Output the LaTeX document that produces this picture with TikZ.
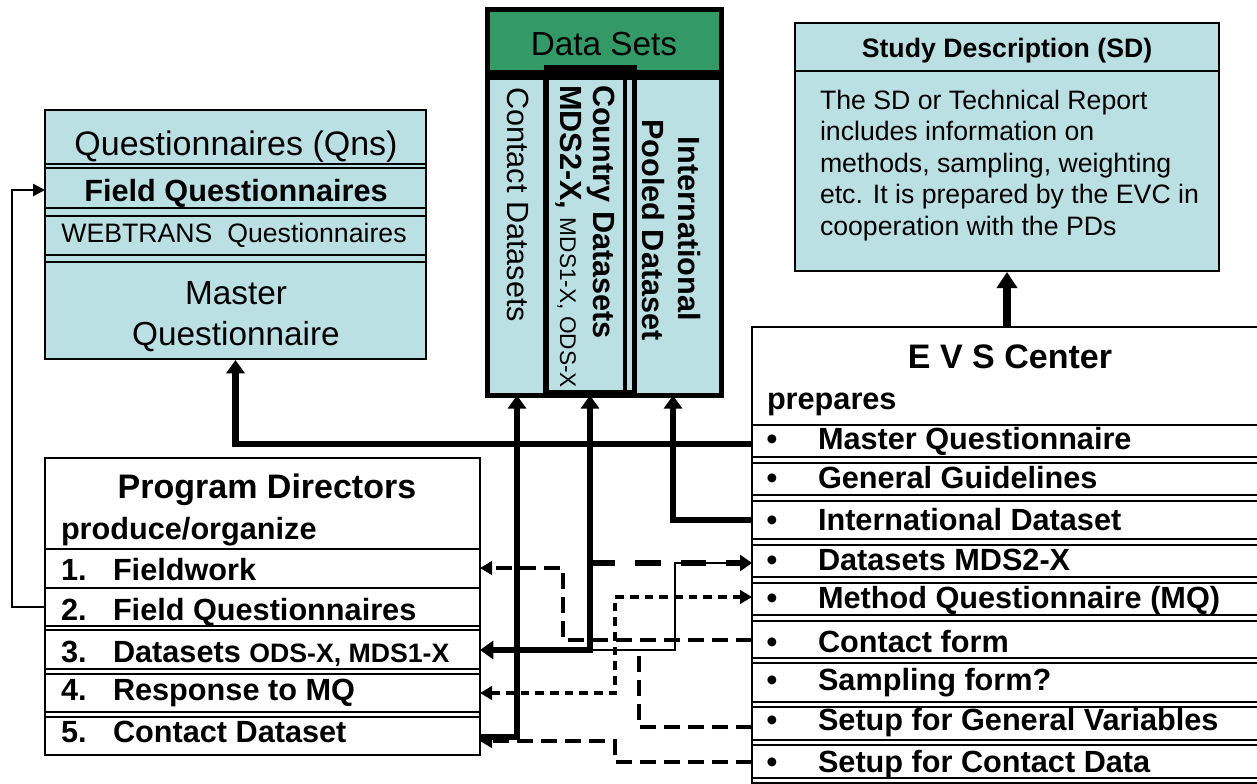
\documentclass[tikz,border=0pt]{standalone}
\usepackage{fontspec}
\setmainfont{Liberation Sans}
\usetikzlibrary{arrows.meta,fit}
\definecolor{lblue}{RGB}{187,224,227}
\definecolor{dgreen}{RGB}{51,153,102}
\newcommand\szA{\fontsize{25.5pt}{30pt}\selectfont}
\newcommand\szB{\fontsize{23pt}{27pt}\selectfont}
\newcommand\szC{\fontsize{20pt}{24pt}\selectfont}
\newcommand\szD{\fontsize{17pt}{20pt}\selectfont}
\newcommand\szE{\fontsize{25pt}{30pt}\selectfont}
\begin{document}
\begin{tikzpicture}[x=0.75pt,y=-0.75pt,
  box/.style={draw=black,line width=1.5pt,inner sep=0pt},
  sepl/.style={line width=1pt},
  txt/.style={inner sep=0pt,outer sep=0pt},
  thk/.style={line width=5pt},
  thn/.style={line width=2pt},
  thkdash/.style={line width=5pt,dash pattern=on 19pt off 15pt},
  dsh/.style={line width=2.7pt,dash pattern=on 12pt off 6pt},
  dotd/.style={line width=2.7pt,dash pattern=on 6.5pt off 4.5pt},
  bigtip/.tip={Triangle[width=13.5pt,length=10pt]},
  smtip/.tip={Triangle[width=10pt,length=9pt]},
]
\useasboundingbox (0,0) rectangle (1257,783);
\clip (0,0) rectangle (1257,783);

% ---------- Questionnaires box ----------
\node[box,fill=lblue,fit={(45,110)(426,359)}] (qns) {};
\draw[sepl] (45,164) -- (426,164);
\draw[sepl] (45,168) -- (426,168);
\draw[sepl] (45,208) -- (426,208);
\draw[sepl] (45,216) -- (426,216);
\draw[sepl] (45,255) -- (426,255);
\draw[sepl] (45,262) -- (426,262);
\node[txt,anchor=base,font=\szA] (qt1) at (236,155) {Questionnaires (Qns)};
\node[txt,anchor=base,font=\szB\bfseries] (qt2) at (236,201) {Field Questionnaires};
\node[txt,anchor=base,font=\szC] (qt3) at (234,242) {WEBTRANS\ \ Questionnaires};
\node[txt,anchor=base,font=\szE] (qt4) at (236,304) {Master};
\node[txt,anchor=base,font=\szE] (qt5) at (236,345) {Questionnaire};

% ---------- Data Sets box ----------
\node[inner sep=0pt,fill=lblue,fit={(488,10)(721,395)}] (ds) {};
\node[inner sep=0pt,fill=dgreen,fit={(488,10)(721,75)}] (dshead) {};
\node[inner sep=0pt,fit={(488,75)(546,395)}] (colC) {};
\node[inner sep=0pt,fit={(546,67)(634,395)}] (colM) {};
\node[inner sep=0pt,fit={(625,75)(721,395)}] (colI) {};
\draw[line width=7pt] (488,75) -- (721,75);
\draw[line width=4.5pt] (546,75) -- (546,395);
\draw[line width=3pt] (625,75) -- (625,395);
\draw[line width=3.75pt] (546,67) rectangle (634,392);
\draw[line width=4pt] (ds.north west) rectangle (ds.south east);
\node[txt,anchor=base,font=\szE] (dst) at (604,55) {Data Sets};
\node[txt,rotate=-90,anchor=base west,font=\szB] (cdt) at (507,87) {Contact Datasets};
\node[txt,rotate=-90,anchor=base west,font=\szB\bfseries] (cnt1) at (593,85) {Country Datasets};
\node[txt,rotate=-90,anchor=base west,font=\szB] (cnt2) at (560,85) {\bfseries MDS2-X,\mdseries\ \szD MDS1-X, ODS-X};
\node[txt,rotate=-90,anchor=base,font=\szB\bfseries] (ipd1) at (678,229) {International};
\node[txt,rotate=-90,anchor=base,font=\szB\bfseries] (ipd2) at (642,230) {Pooled Dataset};

% ---------- Study Description ----------
\node[box,fill=lblue,fit={(795,23)(1219,271)}] (sd) {};
\draw[line width=1.2pt] (795,71) -- (1219,71);
\node[txt,anchor=base,font=\szC\bfseries] (sdt) at (1007,57) {Study Description (SD)};
\node[txt,anchor=base west,font=\szC] (sd1) at (820,109) {The SD or Technical Report};
\node[txt,anchor=base west,font=\szC] (sd2) at (820,140) {includes information on};
\node[txt,anchor=base west,font=\szC] (sd3) at (820,172) {methods, sampling, weighting};
\node[txt,anchor=base west,font=\szC] (sd4) at (820,203) {etc. It is prepared by the EVC in};
\node[txt,anchor=base west,font=\szC] (sd5) at (820,235) {cooperation with the PDs};

% ---------- EVS Center ----------
\node[box,fill=white,fit={(752,327)(1290,810)}] (evs) {};
\draw[sepl,line width=1.3pt] (752,425) -- (1290,425);
\foreach \ya/\yb in {457/463,495/501,539/545,577/583,615/621,658/663,702/707,740/745,778/783}{
  \draw[sepl] (752,\ya) -- (1290,\ya);
  \draw[sepl] (752,\yb) -- (1290,\yb);
}
\node[txt,anchor=base,font=\szA\bfseries] (evt) at (1010,368) {E V S Center};
\node[txt,anchor=base west,font=\szB\bfseries] (evp) at (767,409) {prepares};
\foreach \yy/\lbl [count=\rr] in {449/Master Questionnaire,488/General Guidelines,530/International Dataset,570/Datasets MDS2-X,608/Method Questionnaire (MQ),652/Contact form,690/Sampling form?,730/Setup for General Variables,772/Setup for Contact Data}{
  \node[txt,anchor=base,font=\szB\bfseries] (eb\rr) at (772,\yy) {\textbullet};
  \node[txt,anchor=base west,font=\szB\bfseries] (et\rr) at (818,\yy) {\lbl};
}

% ---------- Program Directors ----------
\node[box,fill=white,fit={(45,458)(480,755)}] (pd) {};
\draw[line width=1.3pt] (45,549) -- (480,549);
\draw[line width=1.3pt] (45,588) -- (480,588);
\foreach \ya/\yb in {626/630,669/674,712/717}{
  \draw[sepl] (45,\ya) -- (480,\ya);
  \draw[sepl] (45,\yb) -- (480,\yb);
}
\node[txt,anchor=base,font=\szA\bfseries] (pdt) at (267,498) {Program Directors};
\node[txt,anchor=base west,font=\szB\bfseries] (pdp) at (61,539) {produce/organize};
\foreach \yy/\num/\lbl [count=\rr] in {580/1./Fieldwork,620/2./Field Questionnaires,662/3./{Datasets {\szC ODS-X, MDS1-X}},700/4./Response to MQ,742/5./Contact Dataset}{
  \node[txt,anchor=base west,font=\szB\bfseries] (pn\rr) at (61,\yy) {\num};
  \node[txt,anchor=base west,font=\szB\bfseries] (pt\rr) at (113,\yy) {\lbl};
}

% ---------- connector anchors ----------
\coordinate (e1) at (752,444);
\coordinate (e3) at (752,520);
\coordinate (e4) at (752,563);
\coordinate (e5) at (752,597);
\coordinate (e6) at (752,640);
\coordinate (e8) at (752,727);
\coordinate (e9) at (752,762);
\coordinate (pd1) at (480,568);
\coordinate (pd2) at (45,607);
\coordinate (pd3) at (480,650);
\coordinate (pd4) at (480,693);
\coordinate (pd5) at (480,737);
\coordinate (pd5b) at (480,741);
\coordinate (qfq) at (45,190);
\coordinate (xL) at (12,0);
\coordinate (xB) at (563,0);
\coordinate (xD) at (615,0);
\coordinate (kA) at (675,650);
\coordinate (kC) at (639,651);

% ---------- connectors ----------
\draw[thn,-{Triangle[width=9pt,length=9pt]}] (pd2) -- (pd2 -| xL) |- (qfq);
\draw[thk,-bigtip] (e1) -| (qns.south);
\draw[thk,-bigtip] (e3) -| (colI.south);
\draw[thk,-bigtip] (pd5) -| (colC.south);
\draw[thn] (colM.south |- pd3) -- (kA) |- (e4);
\draw[thk,bigtip-bigtip] (pd3) -| (colM.south);
\draw[thkdash,-{Triangle[width=12pt,length=9pt]}] (colM.south |- e4) -- (e4);
\draw[dsh,-smtip] (e6) -- (e6 -| xB) |- (pd1);
\draw[dotd,smtip-smtip] (pd4) -- (pd4 -| xD) |- (e5);
\draw[dsh] (e8) -| (kC);
\draw[dsh,-smtip] (e9) -- (e9 -| xD) |- (pd5b);
\draw[line width=5.5pt,-{Triangle[width=15pt,length=12pt]}] (sd.south |- evs.north) -- (sd.south);
\end{tikzpicture}
\end{document}
